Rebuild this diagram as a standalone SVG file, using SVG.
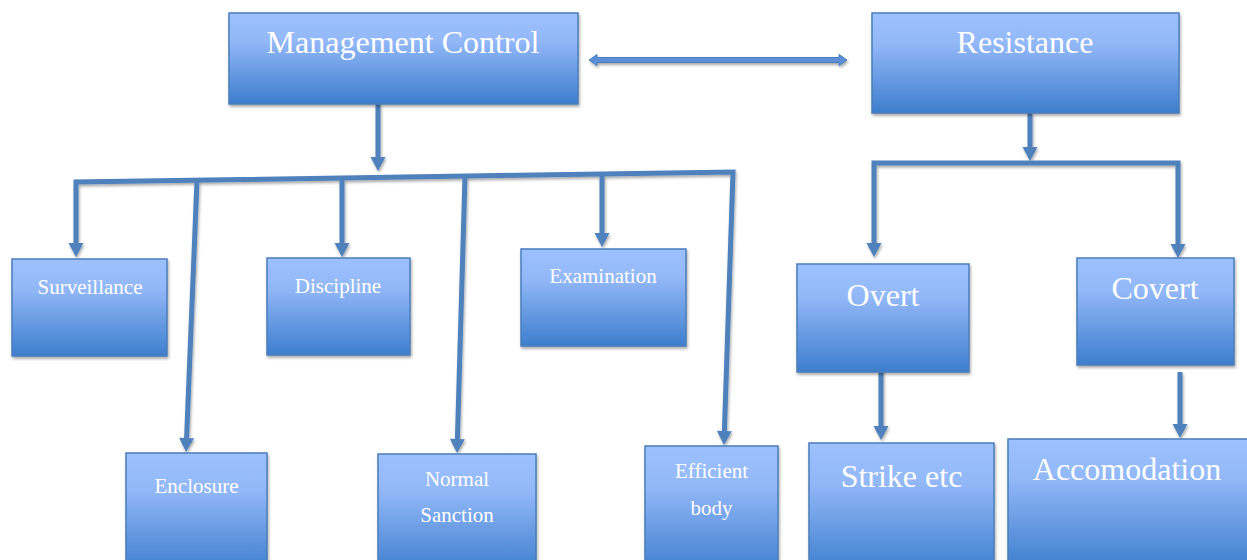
<svg xmlns="http://www.w3.org/2000/svg" width="1247" height="560" viewBox="0 0 1247 560">
<defs>
<linearGradient id="g" x1="0" y1="0" x2="0" y2="1">
<stop offset="0" stop-color="#9dc1ff"/>
<stop offset="0.3" stop-color="#93b8f8"/>
<stop offset="1" stop-color="#3d7ecd"/>
</linearGradient>
<filter id="sh" x="-10%" y="-10%" width="130%" height="130%">
<feGaussianBlur in="SourceAlpha" stdDeviation="1.5"/>
<feOffset dx="1" dy="2" result="b"/>
<feComponentTransfer><feFuncA type="linear" slope="0.35"/></feComponentTransfer>
<feMerge><feMergeNode/><feMergeNode in="SourceGraphic"/></feMerge>
</filter>
<marker id="ah" markerUnits="userSpaceOnUse" markerWidth="18" markerHeight="18" viewBox="0 -9 15 18" refX="0" refY="0" orient="auto-start-reverse">
<path d="M0,-7.5 L14,0 L0,7.5 z" fill="#4f81bd"/>
</marker>
<style>
.box{fill:url(#g);stroke:#4a7ebb;stroke-width:1.5;filter:url(#sh)}
.c{fill:none;stroke:#4f81bd;stroke-width:5;stroke-linejoin:miter}
.t{font-family:"Liberation Serif","Times New Roman",serif;fill:#ffffff;text-anchor:middle}
.s{font-size:21px}
.l{font-size:32px}
</style>
</defs>
<g id="connectors" filter="url(#sh)">
<path class="c" d="M378,104 L378,157" marker-end="url(#ah)"/>
<path class="c" d="M76,243 L76,182 L733,172 L724.4,431" marker-start="url(#ah)" marker-end="url(#ah)"/>
<path class="c" d="M197,180 L186.6,438" marker-end="url(#ah)"/>
<path class="c" d="M342,178 L342,243" marker-end="url(#ah)"/>
<path class="c" d="M465,176 L457.4,439" marker-end="url(#ah)"/>
<path class="c" d="M602,174 L602,233" marker-end="url(#ah)"/>
<path class="c" d="M1030,113 L1030,147" marker-end="url(#ah)"/>
<path class="c" d="M874,243 L874,163 L1178,163 L1178,244" marker-start="url(#ah)" marker-end="url(#ah)"/>
<path class="c" d="M881,368 L881,426" marker-end="url(#ah)"/>
<path class="c" d="M1180,372 L1180,424" marker-end="url(#ah)"/>
<polygon points="589,60 597,54.5 597,57.5 839,57.5 839,54.5 847,60 839,65.5 839,62.5 597,62.5 597,65.5" fill="#5b8fd8" stroke="#4a7ebb" stroke-width="1"/>
</g>
<g id="management-control"><rect class="box" x="229" y="13" width="349" height="91"/><text class="t l" x="403" y="53">Management Control</text></g>
<g id="resistance"><rect class="box" x="872" y="13" width="307" height="100"/><text class="t l" x="1025" y="53">Resistance</text></g>
<g id="surveillance"><rect class="box" x="12" y="259" width="155" height="97"/><text class="t s" x="90" y="294">Surveillance</text></g>
<g id="discipline"><rect class="box" x="267" y="258" width="143" height="97"/><text class="t s" x="338" y="293">Discipline</text></g>
<g id="examination"><rect class="box" x="521" y="249" width="165" height="97"/><text class="t s" x="603" y="283">Examination</text></g>
<g id="enclosure"><rect class="box" x="126" y="453" width="141" height="120"/><text class="t s" x="196.5" y="493">Enclosure</text></g>
<g id="normal-sanction"><rect class="box" x="378" y="454" width="158" height="120"/><text class="t s" x="457" y="486">Normal</text><text class="t s" x="457" y="522">Sanction</text></g>
<g id="efficient-body"><rect class="box" x="645" y="446" width="133" height="130"/><text class="t s" x="711.5" y="478">Efficient</text><text class="t s" x="711.5" y="515">body</text></g>
<g id="overt"><rect class="box" x="797" y="264" width="172" height="108"/><text class="t l" x="883" y="306">Overt</text></g>
<g id="covert"><rect class="box" x="1077" y="258" width="157" height="107"/><text class="t l" x="1155" y="299">Covert</text></g>
<g id="strike-etc"><rect class="box" x="809" y="443" width="185" height="130"/><text class="t l" x="901.5" y="487">Strike etc</text></g>
<g id="accomodation"><rect class="box" x="1008" y="439" width="250" height="130"/><text class="t l" x="1127" y="480">Accomodation</text></g>
</svg>
